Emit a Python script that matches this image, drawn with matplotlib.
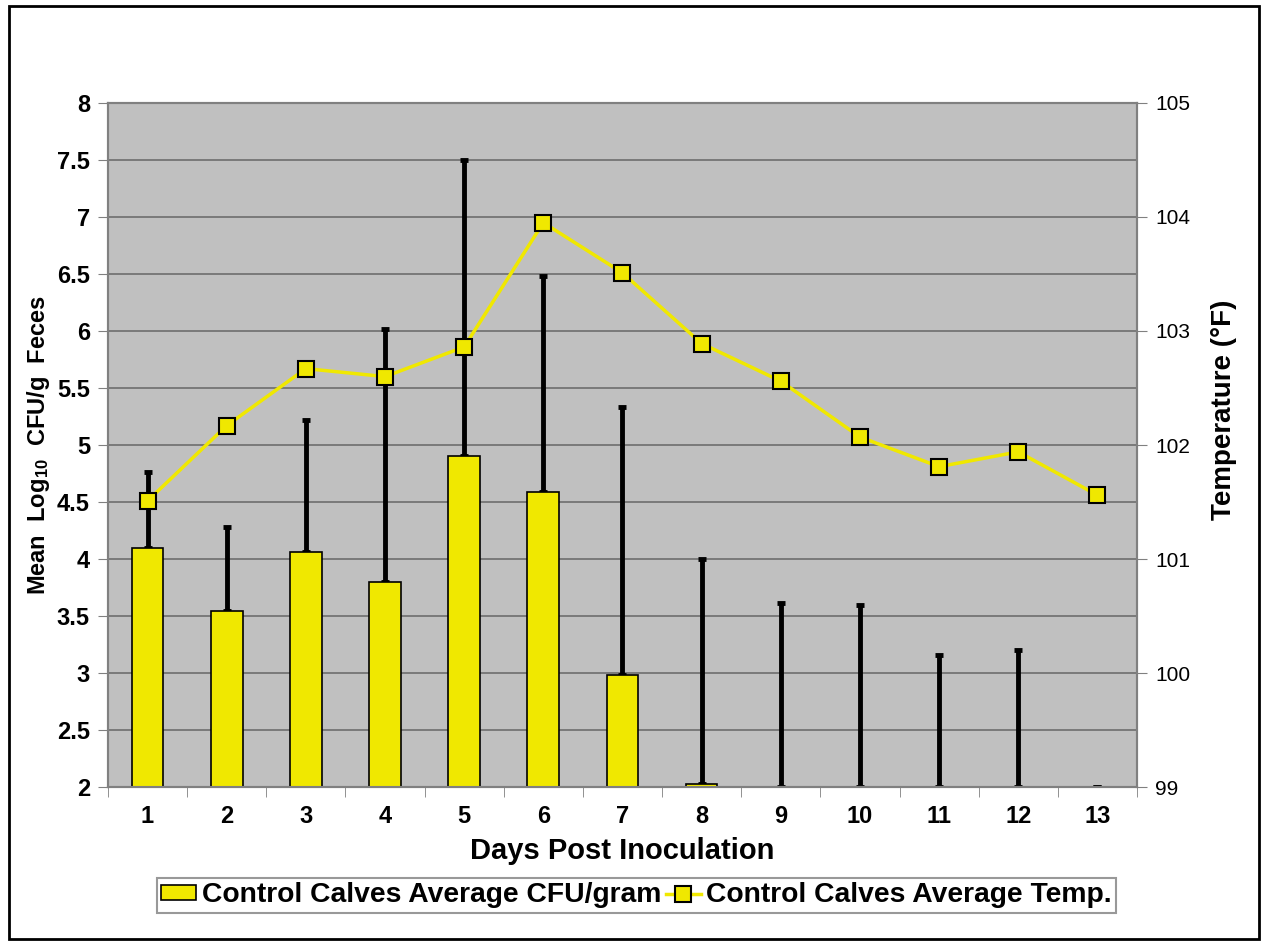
import matplotlib.pyplot as plt
from matplotlib.patches import Rectangle
import numpy as np

plt.rcParams['font.family'] = ['Liberation Sans', 'DejaVu Sans']
plt.rcParams['font.weight'] = 'bold'
plt.rcParams['mathtext.fontset'] = 'custom'
plt.rcParams['mathtext.rm'] = 'Liberation Sans:bold'
plt.rcParams['mathtext.default'] = 'rm'

days = ['1', '2', '3', '4', '5', '6', '7', '8', '9', '10', '11', '12', '13']
cfu_mean = [4.10, 3.54, 4.06, 3.80, 4.90, 4.59, 2.98, 2.03, 2.0, 2.0, 2.0, 2.0, 2.0]
cfu_err_top = [4.76, 4.28, 5.22, 6.02, 7.50, 6.48, 5.33, 4.00, 3.61, 3.60, 3.16, 3.20, 2.0]
temp_f = [101.51, 102.17, 102.67, 102.60, 102.86, 103.95, 103.51,
          102.89, 102.56, 102.07, 101.81, 101.94, 101.56]

yellow = '#F0E800'
x = np.arange(1, len(days) + 1)

fig = plt.figure(figsize=(12.64, 9.43), dpi=100)
fig.patches.append(Rectangle((0.007, 0.004), 0.989, 0.99, transform=fig.transFigure,
                             fill=False, edgecolor='black', lw=2))
ax = fig.add_axes([0.0854, 0.1654, 0.8141, 0.7254])
ax.set_facecolor('#C0C0C0')

upper = np.array(cfu_err_top) - np.array(cfu_mean)
ax.bar(x, np.array(cfu_mean) - 2, bottom=2, width=0.4, color=yellow,
       edgecolor='black', lw=1.2, zorder=3, label='Control Calves Average CFU/gram')
ax.errorbar(x, cfu_mean, yerr=[np.zeros(len(x)), upper], fmt='none',
            ecolor='black', elinewidth=3.5, capsize=3, capthick=3.5, zorder=2)

ax.set_xlim(0.5, 13.5)
ax.set_ylim(2, 8)
ax.set_yticks(np.arange(2, 8.01, 0.5))
ax.set_yticklabels(['2', '2.5', '3', '3.5', '4', '4.5', '5', '5.5', '6', '6.5', '7', '7.5', '8'])
ax.set_xticks(x)
ax.set_xticklabels(days)
ax.set_xticks(np.arange(0.5, 13.6, 1), minor=True)
ax.tick_params(axis='x', which='major', length=0, pad=13, labelsize=17)
ax.tick_params(axis='x', which='minor', length=7, color='#808080')
ax.tick_params(axis='y', length=7, color='#808080', labelsize=17, pad=6)
ax.yaxis.grid(True, color='#6E6E6E', lw=1.2, zorder=1)
ax.set_axisbelow(True)
for s in ax.spines.values():
    s.set_color('#808080')
    s.set_linewidth(1.5)

ax.set_xlabel('Days Post Inoculation', fontsize=21, fontweight='bold')
ax.xaxis.set_label_coords(0.5, -0.073)
ax.set_ylabel('Mean  Log$_{10}$  CFU/g  Feces', fontsize=17, fontweight='bold')
ax.yaxis.set_label_coords(-0.054, 0.5)

ax2 = ax.twinx()
ax2.plot(x, temp_f, color=yellow, lw=2.5, marker='s', markersize=12,
         markerfacecolor=yellow, markeredgecolor='black', markeredgewidth=1.5,
         zorder=5, label='Control Calves Average Temp.')
ax2.set_ylim(99, 105)
ax2.set_yticks(np.arange(99, 105.1, 1))
ax2.tick_params(axis='y', length=7, color='#808080', labelsize=15, pad=6)
for lbl in ax2.get_yticklabels():
    lbl.set_fontweight('normal')
ax2.set_ylabel('Temperature (°F)', fontsize=20, fontweight='bold')
ax2.yaxis.set_label_coords(1.072, 0.551)
for s in ax2.spines.values():
    s.set_color('#808080')
    s.set_linewidth(1.5)
ax.set_zorder(1)
ax2.set_zorder(2)

h1, l1 = ax.get_legend_handles_labels()
h2, l2 = ax2.get_legend_handles_labels()
leg = fig.legend(h1 + h2, l1 + l2, loc='center', bbox_to_anchor=(0.5036, 0.0504),
                 ncol=2, fontsize=20.3, frameon=True, fancybox=False, edgecolor='#808080',
                 handlelength=1.25, handleheight=0.47, handletextpad=0.2,
                 columnspacing=0.15, borderpad=0.15, borderaxespad=0)
leg.get_frame().set_linewidth(1.5)
for t in leg.get_texts():
    t.set_fontweight('bold')

fig.savefig('out.png', dpi=100)
